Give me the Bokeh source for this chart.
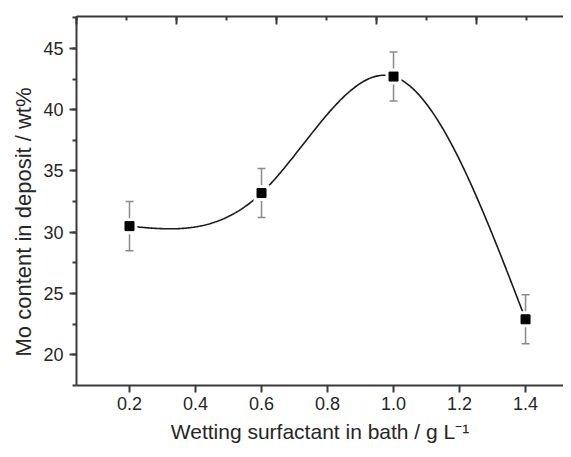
import numpy as np
from bokeh.plotting import figure
from bokeh.models import (Range1d, LinearAxis, SingleIntervalTicker, FixedTicker,
                          ColumnDataSource, Whisker, TeeHead, Title)
from bokeh.embed import file_html
from bokeh.resources import INLINE

# ---- data ----
surfactant = [0.2, 0.6, 1.0, 1.4]          # g/L
mo_content = [30.5, 33.2, 42.7, 22.9]      # wt%
mo_error = [2.0, 2.0, 2.0, 2.0]
x_ticks = [0.2, 0.4, 0.6, 0.8, 1.0, 1.2, 1.4]
x_tick_labels = ["0.2", "0.4", "0.6", "0.8", "1.0", "1.2", "1.4"]
y_ticks = [20, 25, 30, 35, 40, 45]
x_label = "Wetting surfactant in bath / g L\u207b\u00b9"
y_label = "Mo content in deposit / wt%"

FONT = "Liberation Sans"
TXT = "#262626"
AX = "#3a3a3a"


def natural_spline(xs, ys, n=400):
    xs = np.asarray(xs, float)
    ys = np.asarray(ys, float)
    m = len(xs)
    h = np.diff(xs)
    A = np.zeros((m, m))
    b = np.zeros(m)
    A[0, 0] = A[-1, -1] = 1.0
    for i in range(1, m - 1):
        A[i, i - 1] = h[i - 1] / 6
        A[i, i] = (h[i - 1] + h[i]) / 3
        A[i, i + 1] = h[i] / 6
        b[i] = (ys[i + 1] - ys[i]) / h[i] - (ys[i] - ys[i - 1]) / h[i - 1]
    M = np.linalg.solve(A, b)
    xx = np.linspace(xs[0], xs[-1], n)
    idx = np.clip(np.searchsorted(xs, xx) - 1, 0, m - 2)
    x0 = xs[idx]
    x1 = xs[idx + 1]
    hh = x1 - x0
    t0 = x1 - xx
    t1 = xx - x0
    yy = (M[idx] * t0 ** 3 / (6 * hh) + M[idx + 1] * t1 ** 3 / (6 * hh)
          + (ys[idx] / hh - M[idx] * hh / 6) * t0
          + (ys[idx + 1] / hh - M[idx + 1] * hh / 6) * t1)
    return xx, yy


W, H = 563, 449
BL, BR, BT, BB = 76, 0, 16, 64

p = figure(width=W, height=H, x_range=Range1d(0.0394, 1.515), y_range=Range1d(17.5, 47.6),
           output_backend="svg", toolbar_location=None,
           min_border_left=BL, min_border_right=BR, min_border_top=BT, min_border_bottom=BB)
p.outline_line_color = None
p.xgrid.grid_line_color = None
p.ygrid.grid_line_color = None
p.background_fill_color = "white"
p.border_fill_color = "white"

# bottom axis
xa = p.xaxis[0]
xa.ticker = FixedTicker(ticks=x_ticks)
xa.major_label_overrides = {t: l for t, l in zip(x_ticks, x_tick_labels)}
xa.major_tick_out = 7
xa.major_tick_in = 0
xa.minor_tick_out = 0
xa.minor_tick_in = 0
xa.major_label_standoff = 4
xa.axis_line_width = 2
xa.axis_line_color = AX
xa.major_tick_line_width = 2
xa.major_tick_line_color = AX
xa.major_label_text_font = FONT
xa.major_label_text_font_size = "18px"
xa.major_label_text_color = TXT
xa.axis_label = x_label
xa.axis_label_text_font = FONT
xa.axis_label_text_font_size = "21px"
xa.axis_label_text_font_style = "normal"
xa.axis_label_text_color = TXT
xa.axis_label_standoff = 7

# left axis
ya = p.yaxis[0]
ya.ticker = SingleIntervalTicker(interval=5, num_minor_ticks=2)
ya.major_tick_out = 7
ya.major_tick_in = 0
ya.minor_tick_out = 4
ya.minor_tick_in = 0
ya.major_label_standoff = 6
ya.axis_line_width = 2
ya.axis_line_color = AX
ya.major_tick_line_width = 2
ya.major_tick_line_color = AX
ya.minor_tick_line_width = 2
ya.minor_tick_line_color = AX
ya.major_label_text_font = FONT
ya.major_label_text_font_size = "18px"
ya.major_label_text_color = TXT

# y title placed on the left, shifted down like the reference
yt = Title(text=y_label, align="left", offset=29, text_font=FONT, text_font_size="22px",
           text_font_style="normal", text_color=TXT, standoff=9)
p.add_layout(yt, "left")

# top axis (frame line with inward ticks, no labels)
p.extra_x_ranges = {"top": Range1d(0, W - BL - BR)}
ta = LinearAxis(x_range_name="top", ticker=SingleIntervalTicker(interval=100, num_minor_ticks=2))
ta.major_tick_in = 8
ta.major_tick_out = 0
ta.minor_tick_in = 4
ta.minor_tick_out = 0
ta.axis_line_width = 2
ta.axis_line_color = AX
ta.major_tick_line_width = 2
ta.major_tick_line_color = AX
ta.minor_tick_line_width = 2
ta.minor_tick_line_color = AX
ta.major_label_text_color = None
ta.major_label_standoff = 0
p.add_layout(ta, "above")

# spline curve
sx, sy = natural_spline(surfactant, mo_content)
p.line(sx, sy, line_color="#1a1a1a", line_width=1.6)

# white gaps around symbols
p.scatter(surfactant, mo_content, marker="square", size=16, fill_color="white", line_color=None)

# error bars
lower = [v - e for v, e in zip(mo_content, mo_error)]
upper = [v + e for v, e in zip(mo_content, mo_error)]
src = ColumnDataSource(dict(x=surfactant, lower=lower, upper=upper))
EB = "#8a8a8a"
wh = Whisker(source=src, base="x", lower="lower", upper="upper",
             line_color=EB, line_width=1.5,
             upper_head=TeeHead(size=8, line_color=EB, line_width=1.5),
             lower_head=TeeHead(size=8, line_color=EB, line_width=1.5))
p.add_layout(wh)

# markers
p.scatter(surfactant, mo_content, marker="square", size=9, fill_color="black", line_color="black")

open("out.html", "w").write(file_html(p, INLINE))
